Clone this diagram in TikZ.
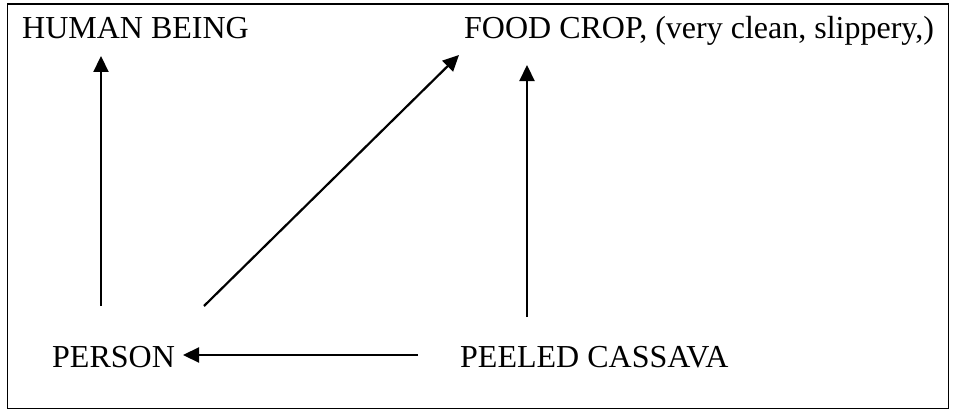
\documentclass[tikz,border=0pt]{standalone}
\usepackage{fontspec}
\setmainfont{Liberation Serif}
\usetikzlibrary{arrows.meta}
\begin{document}
\begin{tikzpicture}[x=1pt,y=-1pt,
  lbl/.style={anchor=base west,inner sep=0pt,font=\fontsize{32}{38}\selectfont},
  arr/.style={line width=2.2pt,-{Triangle[length=16pt,width=15pt]}}]
\useasboundingbox (0,0) rectangle (953,412);
\draw[line width=1.8pt] (7.5,4) rectangle (948.5,408.5);
\node[lbl] (human) at (22,39) {HUMAN BEING};
\node[lbl] (food) at (464,39) {FOOD CROP, (very clean, slippery,)};
\node[lbl] (person) at (52,367) {PERSON};
\node[lbl] (cassava) at (460,367) {PEELED CASSAVA};
\coordinate (h1) at (101,306);
\coordinate (h2) at (101,56);
\coordinate (d1) at (204,306);
\coordinate (d2) at (459,55);
\coordinate (f1) at (527,317);
\coordinate (f2) at (527,65);
\coordinate (p1) at (418,355);
\coordinate (p2) at (183,355);
\draw[arr] (h1) -- (h2);
\draw[arr] (d1) -- (d2);
\draw[arr] (f1) -- (f2);
\draw[arr] (p1) -- (p2);
\end{tikzpicture}
\end{document}
